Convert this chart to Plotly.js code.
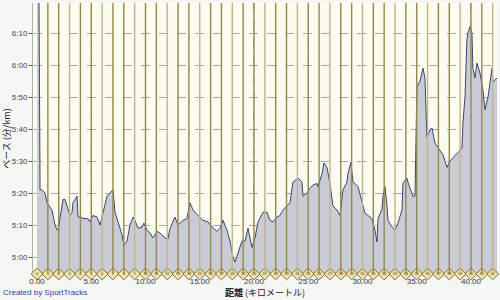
<!DOCTYPE html>
<html><head><meta charset="utf-8">
<script src="https://cdn.plot.ly/plotly-3.0.1.min.js"></script>
<style>html,body{margin:0;padding:0;background:#f6f6f4;}#c{width:500px;height:300px;}</style>
</head><body><div id="c"></div>
<script>
// distance (km)
const distKm = [0,0.15,0.28,0.46,0.74,0.92,1.20,1.38,1.66,1.84,1.94,2.12,2.40,2.58,2.76,3.04,3.23,3.32,3.69,3.78,3.96,4.33,4.70,4.88,5.16,5.53,5.81,6.08,6.45,6.73,7.00,7.19,7.47,7.83,8.02,8.29,8.57,8.85,9.03,9.31,9.68,9.86,10.14,10.41,10.69,11.06,11.34,11.80,12.07,12.26,12.72,13.00,13.46,13.82,14.10,14.38,14.84,15.30,15.76,16.13,16.59,16.87,17.14,17.51,17.79,18.06,18.25,18.53,18.89,19.17,19.45,19.82,20.09,20.37,20.83,21.20,21.47,21.75,22.12,22.40,22.67,23.04,23.32,23.59,23.78,24.06,24.42,24.52,24.88,25.16,25.44,25.81,25.90,26.27,26.45,26.73,27.00,27.28,27.65,27.93,28.20,28.57,28.66,28.94,29.12,29.31,29.59,29.95,30.23,30.51,30.88,31.15,31.34,31.43,31.61,31.80,31.89,32.07,32.26,32.35,32.72,33.00,33.27,33.64,33.73,34.10,34.19,34.38,34.65,34.84,34.93,35.02,35.30,35.58,35.76,35.94,36.22,36.41,36.68,37.14,37.42,37.79,38.06,38.34,38.80,39.17,39.26,39.45,39.63,39.72,39.91,40.09,40.18,40.37,40.55,40.83,41.11,41.29,41.57,41.94,42.03,42.40];
// pace (seconds per km)
const paceSec = [420,400,321,321,320,317,315.6,314.7,310,308.5,308.4,312.5,318,318,316,313,314,317,319,312.5,312.5,312,312,311,313,312.5,310,314,319,320,321,314,311,307,303.7,305,310,312.5,311.5,309,309.4,310.6,308.4,307.5,306,308,307.5,306,305.6,309,312.5,310,311.5,312,317,314.7,313,311.5,311,309.4,308,309,311.5,308.4,305,300,298.4,301,305,305,309,303,306,311,314,314,311.5,311,312.5,313,314.7,316,317,323.4,324,324.7,323.4,319,320,321.5,322.5,323,322,326,329.4,328,323,316,314.7,313,321,323.4,326,329.7,323.4,323,322,317.8,313.7,313,312,308.4,304.7,312,313.7,315,319,322,316,311.5,309.4,308.4,310.6,314.7,323,324.7,323.4,321.5,319,319,340,353,355,359,356,337.5,339.7,340.3,335.6,333.4,332,328,330,331,332.8,334,342,350,368,370,372,370,359,356,360.6,357.5,352,346,350,359,354.7,356];
// km markers
const kmMarks = Array.from({length:43},(_,i)=>i);
const kmLabels = kmMarks.map(k=>String(k));
// axis ticks
const yTickSec = [300,310,320,330,340,350,360,370];
const yTickText = yTickSec.map(s=>Math.floor(s/60)+":"+String(s%60).padStart(2,"0"));
const xTickVals = [0,5,10,15,20,25,30,35,40];
const xTickText = xTickVals.map(v=>v.toFixed(2));

const yRange = [294.7, 379.4];
const xRange = [-0.37, 42.4];

const traces = [
  {x: distKm, y: paceSec, type:'scatter', mode:'lines', fill:'tozeroy',
   fillcolor:'#c9ccd6', line:{color:'#3a4668', width:1}, hoverinfo:'skip'},
  {x: kmMarks, y: kmMarks.map(()=>yRange[0]), type:'scatter', mode:'markers+text',
   text: kmLabels, textposition:'middle center', textfont:{size:4, color:'#333'},
   marker:{symbol:'diamond', size:9, color:'#f1e4a4', line:{color:'#7d6f38', width:1}},
   cliponaxis:false, hoverinfo:'skip'}
];

const shapes = kmMarks.filter(k=>k>0).map(k=>({
  type:'line', xref:'x', yref:'paper', x0:k, x1:k, y0:0, y1:1,
  line:{color: (k%3===0? '#c2b585':'#968648'), width:1.4}, layer:'above'
}));

const layout = {
  width:500, height:300,
  margin:{l:33, r:3, t:3, b:26},
  paper_bgcolor:'#f6f6f4', plot_bgcolor:'#fdfcf0',
  showlegend:false,
  font:{family:'"Liberation Sans", "Noto Sans CJK JP", sans-serif', size:8, color:'#444'},
  xaxis:{range:xRange, tickvals:xTickVals, ticktext:xTickText, showgrid:true,
    gridcolor:'#a8a8a8', griddash:'dash', gridwidth:1, zeroline:false,
    ticks:'', ticklabelstandoff:1, tickfont:{size:8, color:'#333'},
    title:{text:'<b>距離</b> (キロメートル)', font:{family:'"Noto Sans CJK JP", sans-serif', size:9, color:'#222'}, standoff:0}},
  yaxis:{range:yRange, tickvals:yTickSec, ticktext:yTickText, showgrid:true,
    gridcolor:'#a8a8a8', griddash:'dash', gridwidth:1, zeroline:false,
    ticks:'outside', ticklen:3, tickcolor:'#555', tickfont:{size:8, color:'#444'},
    showline:true, linecolor:'#b0b0b0',
    title:{text:'ペース (分/km)', font:{family:'"Noto Sans CJK JP", sans-serif', size:9, color:'#222'}, standoff:2}},
  shapes: shapes,
  annotations:[{text:'Created by SportTracks', xref:'paper', yref:'paper', x:-0.068, y:-0.094,
    xanchor:'left', yanchor:'bottom', showarrow:false, font:{size:8, color:'#2a45a8'}}]
};

Plotly.newPlot('c', traces, layout, {staticPlot:true});
</script></body></html>
